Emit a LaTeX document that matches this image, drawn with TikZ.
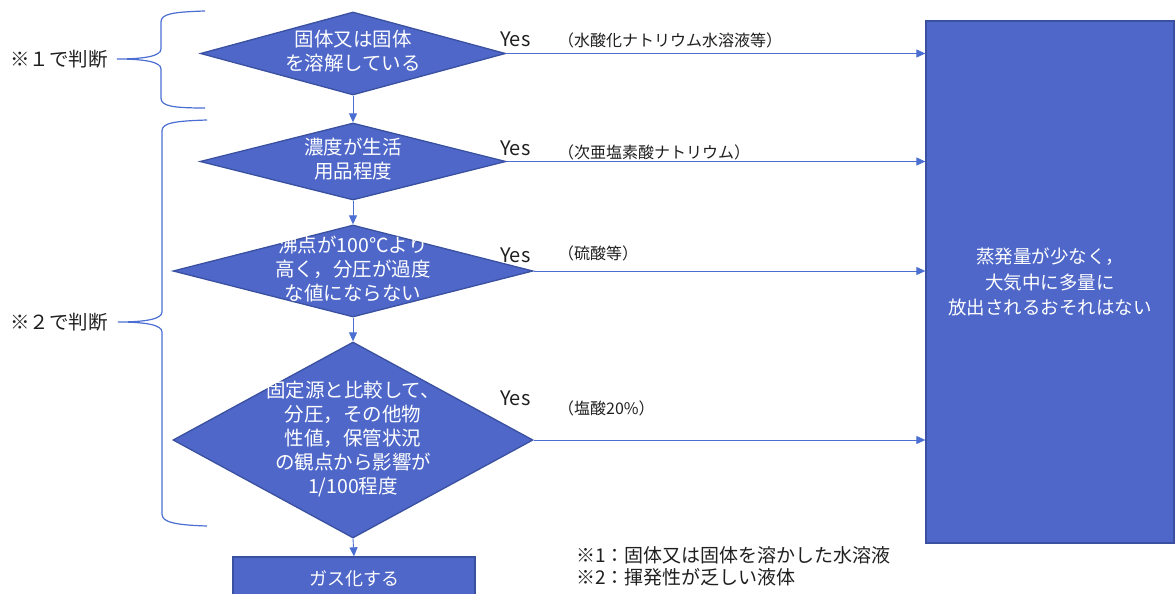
\documentclass[tikz,border=0pt]{standalone}
\usepackage{fontspec}
\setmainfont{Noto Sans CJK JP}
\usetikzlibrary{shapes.geometric,arrows.meta}
\definecolor{boxblue}{HTML}{4E67C8}
\definecolor{edgeblue}{HTML}{3A50A0}
\definecolor{lineblue}{HTML}{4A6ED2}
\definecolor{textgray}{HTML}{1F1F1F}
\newcommand\dtxt[1]{\makebox[0pt]{\smash{\raisebox{-.3em}{\begin{tabular}{@{}c@{}}#1\end{tabular}}}}}
\tikzset{
  decision/.style={
    shape = diamond,
    draw = edgeblue,
    fill = boxblue,
    line width = 1.3pt,
    inner sep = 0pt,
    text = white,
    font = \fontsize{19.5}{24}\selectfont
  },
  process/.style={
    shape = rectangle,
    draw = edgeblue,
    fill = boxblue,
    line width = 1.3pt,
    inner sep = 0pt,
    text = white,
    align = center
  },
  flow/.style={
    draw = lineblue,
    line width = 0.9pt,
    -{Triangle[length=9pt,width=8pt]}
  },
  brace/.style={
    draw = lineblue,
    line width = 1.2pt
  },
  yes/.style={
    anchor = base west,
    font = \fontsize{20}{24}\selectfont,
    text = textgray,
    inner sep = 0pt
  },
  note/.style={
    anchor = west,
    font = \fontsize{16}{18}\selectfont,
    text = textgray,
    inner sep = 0pt
  },
  side/.style={
    anchor = east,
    font = \fontsize{19.5}{24}\selectfont,
    text = textgray,
    inner sep = 0pt
  }
}
\begin{document}
\begin{tikzpicture}[x=1pt,y=-1pt]
        \useasboundingbox (0,0) rectangle (1175,594);

        % decisions
        \node[decision, minimum width=305pt, minimum height=83pt] (d1) at (353,53.5) {\dtxt{固体又は固体\\を溶解している}};
        \node[decision, minimum width=306pt, minimum height=77pt] (d2) at (353,161.5) {\dtxt{濃度が生活\\用品程度}};
        \node[decision, minimum width=360pt, minimum height=92pt] (d3) at (353,271) {\dtxt{沸点が100℃より\\高く，分圧が過度\\な値にならない}};
        \node[decision, minimum width=360pt, minimum height=196pt] (d4) at (353,440) {\dtxt{固定源と比較して、\\分圧，その他物\\性値，保管状況\\の観点から影響が\\1/100程度}};

        \node[process, minimum width=242pt, minimum height=44pt, font=\fontsize{18}{22}\selectfont] (gas) at (354,579) {ガス化する};
        \node[process, minimum width=248pt, minimum height=522pt, font=\fontsize{18.5}{25.5}\selectfont] (out) at (1050,282) {蒸発量が少なく，\\大気中に多量に\\放出されるおそれはない};

        \draw[flow] (d1.south) -- (d2.north);
        \draw[flow] (d2.south) -- (d3.north);
        \draw[flow] (d3.south) -- (d4.north);
        \draw[flow] (d4.south) -- (gas.north);

        \draw[flow] (d1.east) -- (d1.east -| out.west);
        \draw[flow] (d2.east) -- (d2.east -| out.west);
        \draw[flow] (d3.east) -- (d3.east -| out.west);
        \draw[flow] (d4.east) -- (d4.east -| out.west);

        \node[yes] (y1) at (500,47) {Yes};
        \node[yes] (y2) at (500,155) {Yes};
        \node[yes] (y3) at (500,262) {Yes};
        \node[yes] (y4) at (500,405) {Yes};

        \node[note] (n1) at (558,40) {（水酸化ナトリウム水溶液等）};
        \node[note] (n2) at (558,152) {（次亜塩素酸ナトリウム）};
        \node[note] (n3) at (558,253) {（硫酸等）};
        \node[note] (n4) at (558,408) {（塩酸20\%）};

        % braces
        \coordinate (b1tip) at (117,59);
        \coordinate (b2tip) at (118,322);
        \draw[brace] (205,11) .. controls (172,12) and (161,14) .. (161,22) -- (161,49) .. controls (161,56) and (145,59) .. (b1tip) .. controls (145,59) and (161,62) .. (161,69) -- (161,98) .. controls (161,106) and (172,108) .. (205,108);
        \draw[brace] (207,120) .. controls (174,121) and (162,123) .. (162,131) -- (162,312) .. controls (162,319) and (146,322) .. (b2tip) .. controls (146,322) and (162,325) .. (162,332) -- (162,514) .. controls (162,522) and (174,525) .. (207,526);

        \node[side] (s1) at ([xshift=-9pt]b1tip) {※１で判断};
        \node[side] (s2) at ([xshift=-10pt]b2tip) {※２で判断};

        % footnotes
        \node[note, font=\fontsize{19}{22}\selectfont] (f1) at (576,555) {※1：固体又は固体を溶かした水溶液};
        \node[note, font=\fontsize{19}{22}\selectfont] (f2) at (576,577) {※2：揮発性が乏しい液体};
\end{tikzpicture}
\end{document}
